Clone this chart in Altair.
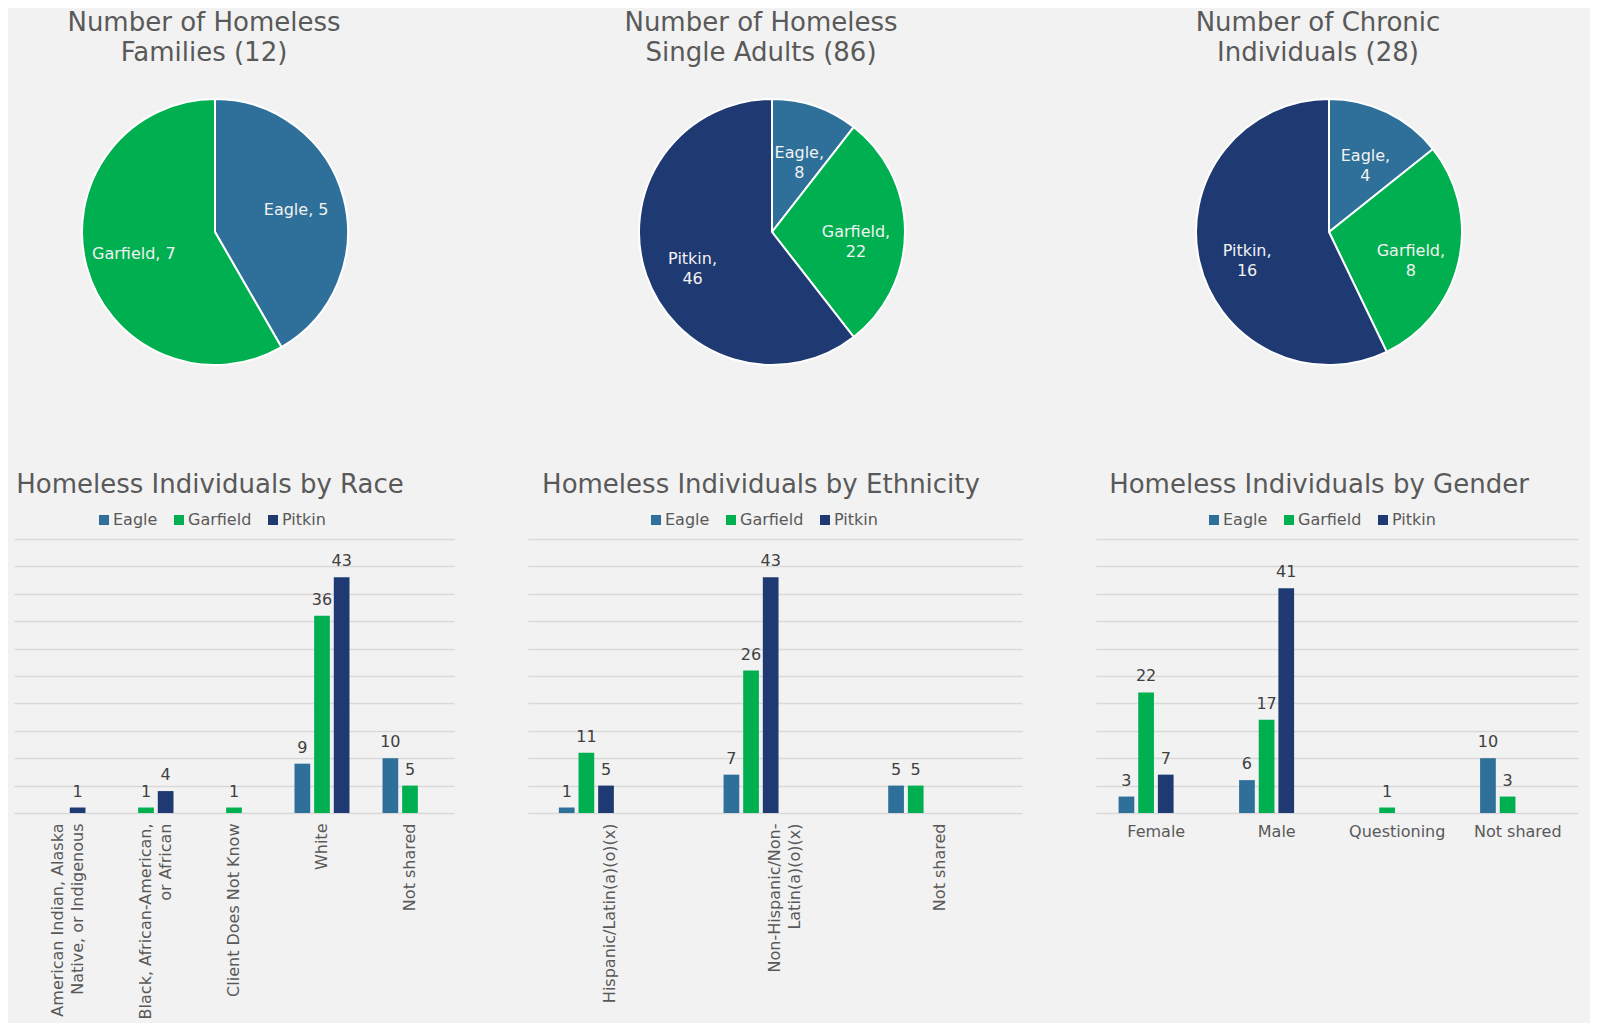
import altair as alt
import pandas as pd

FONT = "DejaVu Sans"
TITLE_COLOR = "#595959"
LABEL_COLOR = "#595959"
VALUE_COLOR = "#404040"
BG = "#F2F2F2"

COUNTIES = ["Eagle", "Garfield", "Pitkin"]
COLORS = ["#2E7099", "#00B050", "#1F3A73"]

# Pie data
FAMILIES = [5, 7, 0]
SINGLE_ADULTS = [8, 22, 46]
CHRONIC = [4, 8, 16]

# Race
RACE_CATS = ["American Indian, Alaska\nNative, or Indigenous",
             "Black, African-American,\nor African",
             "Client Does Not Know", "White", "Not shared"]
RACE_EAGLE = [0, 0, 0, 9, 10]
RACE_GARFIELD = [0, 1, 1, 36, 5]
RACE_PITKIN = [1, 4, 0, 43, 0]

# Ethnicity
ETH_CATS = ["Hispanic/Latin(a)(o)(x)", "Non-Hispanic/Non-\nLatin(a)(o)(x)", "Not shared"]
ETH_EAGLE = [1, 7, 5]
ETH_GARFIELD = [11, 26, 5]
ETH_PITKIN = [5, 43, 0]

# Gender
GEN_CATS = ["Female", "Male", "Questioning", "Not shared"]
GEN_EAGLE = [3, 6, 0, 10]
GEN_GARFIELD = [22, 17, 1, 3]
GEN_PITKIN = [7, 41, 0, 0]

color_scale = alt.Scale(domain=COUNTIES, range=COLORS)
no_view = alt.ViewBackground(stroke="transparent", strokeWidth=0)


def pie(title_lines, values, sep):
    df = pd.DataFrame({"county": COUNTIES, "value": values, "ord": list(range(len(COUNTIES)))})
    df = df[df["value"] > 0].copy()
    df["lbl"] = [f"{c},{sep}{v}" for c, v in zip(df["county"], df["value"])]
    base = alt.Chart(df).encode(
        theta=alt.Theta("value:Q", stack=True),
        order=alt.Order("ord:Q"),
    )
    arc = base.mark_arc(outerRadius=133, stroke="white", strokeWidth=2).encode(
        color=alt.Color("county:N", scale=color_scale, legend=None)
    )
    txt = base.mark_text(radius=84, fontSize=16, font=FONT, lineBreak="\n",
                         lineHeight=20, align="center", baseline="middle").encode(
        text="lbl:N", color=alt.value("#F2F2F2")
    )
    return alt.layer(arc, txt).properties(
        width=402, height=300, view=no_view,
        title=alt.TitleParams(text=title_lines, fontSize=26, font=FONT, color=TITLE_COLOR,
                              fontWeight="normal", lineHeight=30, dx=-11, offset=16,
                              anchor="middle"),
    )


def bars(title, cats, e, g, p, angle, width, title_dx, legend_x):
    rows = []
    for county, vals in zip(COUNTIES, [e, g, p]):
        for c, v in zip(cats, vals):
            rows.append({"cat": c, "county": county, "value": v})
    df = pd.DataFrame(rows)
    base = alt.Chart(df).transform_filter("datum.value > 0").encode(
        x=alt.X("cat:N", sort=cats,
                scale=alt.Scale(domain=cats, paddingInner=0.375, paddingOuter=0.1875),
                axis=alt.Axis(title=None, labelAngle=angle, labelFontSize=16, labelFont=FONT,
                              labelColor=LABEL_COLOR, ticks=False, domain=False, grid=False,
                              labelPadding=10, labelLimit=400, labelLineHeight=20,
                              labelOverlap=False,
                              labelExpr="split(datum.label, '\\n')")),
        xOffset=alt.XOffset("county:N", scale=alt.Scale(domain=COUNTIES, paddingInner=0.2, paddingOuter=0)),
        y=alt.Y("value:Q", scale=alt.Scale(domain=[0, 50], nice=False),
                axis=alt.Axis(title=None, labels=False, ticks=False, domain=False, grid=True,
                              tickCount=10, gridColor="#D9D9D9", gridWidth=1.3)),
    )
    bar = base.mark_bar().encode(
        color=alt.Color("county:N", scale=color_scale,
                        legend=alt.Legend(title=None, orient="none", legendX=legend_x, legendY=-27,
                                          direction="horizontal", symbolType="square",
                                          symbolSize=100, symbolStrokeWidth=0,
                                          labelFontSize=16, labelFont=FONT,
                                          labelColor=LABEL_COLOR, columnPadding=13,
                                          labelOffset=1))
    )
    txt = base.mark_text(baseline="bottom", dy=-8, fontSize=16, font=FONT,
                         color=VALUE_COLOR).encode(text="value:Q")
    return alt.layer(bar, txt).properties(
        width=width, height=274, view=no_view,
        title=alt.TitleParams(text=title, fontSize=26, font=FONT, color=TITLE_COLOR,
                              fontWeight="normal", dx=title_dx, offset=14, anchor="middle"),
    )


row1 = alt.hconcat(
    pie(["Number of Homeless", "Families (12)"], FAMILIES, " "),
    pie(["Number of Homeless", "Single Adults (86)"], SINGLE_ADULTS, "\n"),
    pie(["Number of Chronic", "Individuals (28)"], CHRONIC, "\n"),
    spacing=155,
).resolve_scale(color="independent").resolve_legend(color="independent")

row2 = alt.hconcat(
    bars("Homeless Individuals by Race", RACE_CATS, RACE_EAGLE, RACE_GARFIELD, RACE_PITKIN,
         270, 440, -24, 82),
    bars("Homeless Individuals by Ethnicity", ETH_CATS, ETH_EAGLE, ETH_GARFIELD, ETH_PITKIN,
         270, 494, -14, 120),
    bars("Homeless Individuals by Gender", GEN_CATS, GEN_EAGLE, GEN_GARFIELD, GEN_PITKIN,
         0, 482, -18, 110),
    spacing=74,
).resolve_scale(color="independent").resolve_legend(color="independent")

chart = alt.vconcat(row1, row2, spacing=90).resolve_scale(
    color="independent").resolve_legend(color="independent").properties(
    background=BG,
    padding={"left": 6, "top": 2, "right": 12, "bottom": 4},
).configure_view(stroke="transparent", strokeWidth=0).configure(font=FONT)

chart.save("out.html", embed_options={"renderer": "svg", "actions": False})
